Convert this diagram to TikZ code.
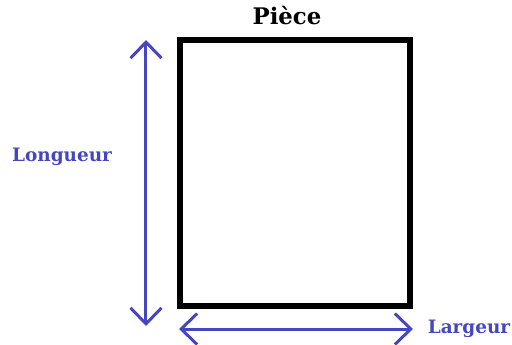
\documentclass[tikz,border=0pt]{standalone}
\usepackage{fontspec}
\setmainfont{DejaVu Serif}
\usepackage{tikz}
\usetikzlibrary{arrows.meta, positioning}
\definecolor{dimblue}{RGB}{70,70,192}

\begin{document}
\begin{tikzpicture}[
    x=0.02cm, y=-0.02cm,
    piecebox/.style={rectangle, draw=black, line width=0.12cm, fill=white, minimum width=4.6cm, minimum height=5.32cm, inner sep=0pt},
    title/.style={font=\bfseries\fontsize{13}{15}\selectfont, text=black},
    dimtext/.style={font=\bfseries\fontsize{10.5}{12}\selectfont, text=dimblue},
    dimarrow/.style={{Straight Barb[length=0.32cm, width=0.62cm]}-{Straight Barb[length=0.32cm, width=0.62cm]}, line width=0.06cm, draw=dimblue, line cap=round}
]
\useasboundingbox (0,0) rectangle (512,345);
\node[piecebox] (piece) at (295,173) {};
\node[title] (titre) at (287,16) {Pièce};

\coordinate (vtop) at (146,40);
\coordinate (vbot) at (146,326);
\coordinate (hleft) at (179,329);
\coordinate (hright) at (413,329);

\draw[dimarrow] (vtop) -- (vbot);
\draw[dimarrow] (hleft) -- (hright);

\node[dimtext] (longueur) at (62,157) {Longueur};
\node[dimtext] (largeur) at (469,329) {Largeur};
\end{tikzpicture}
\end{document}
